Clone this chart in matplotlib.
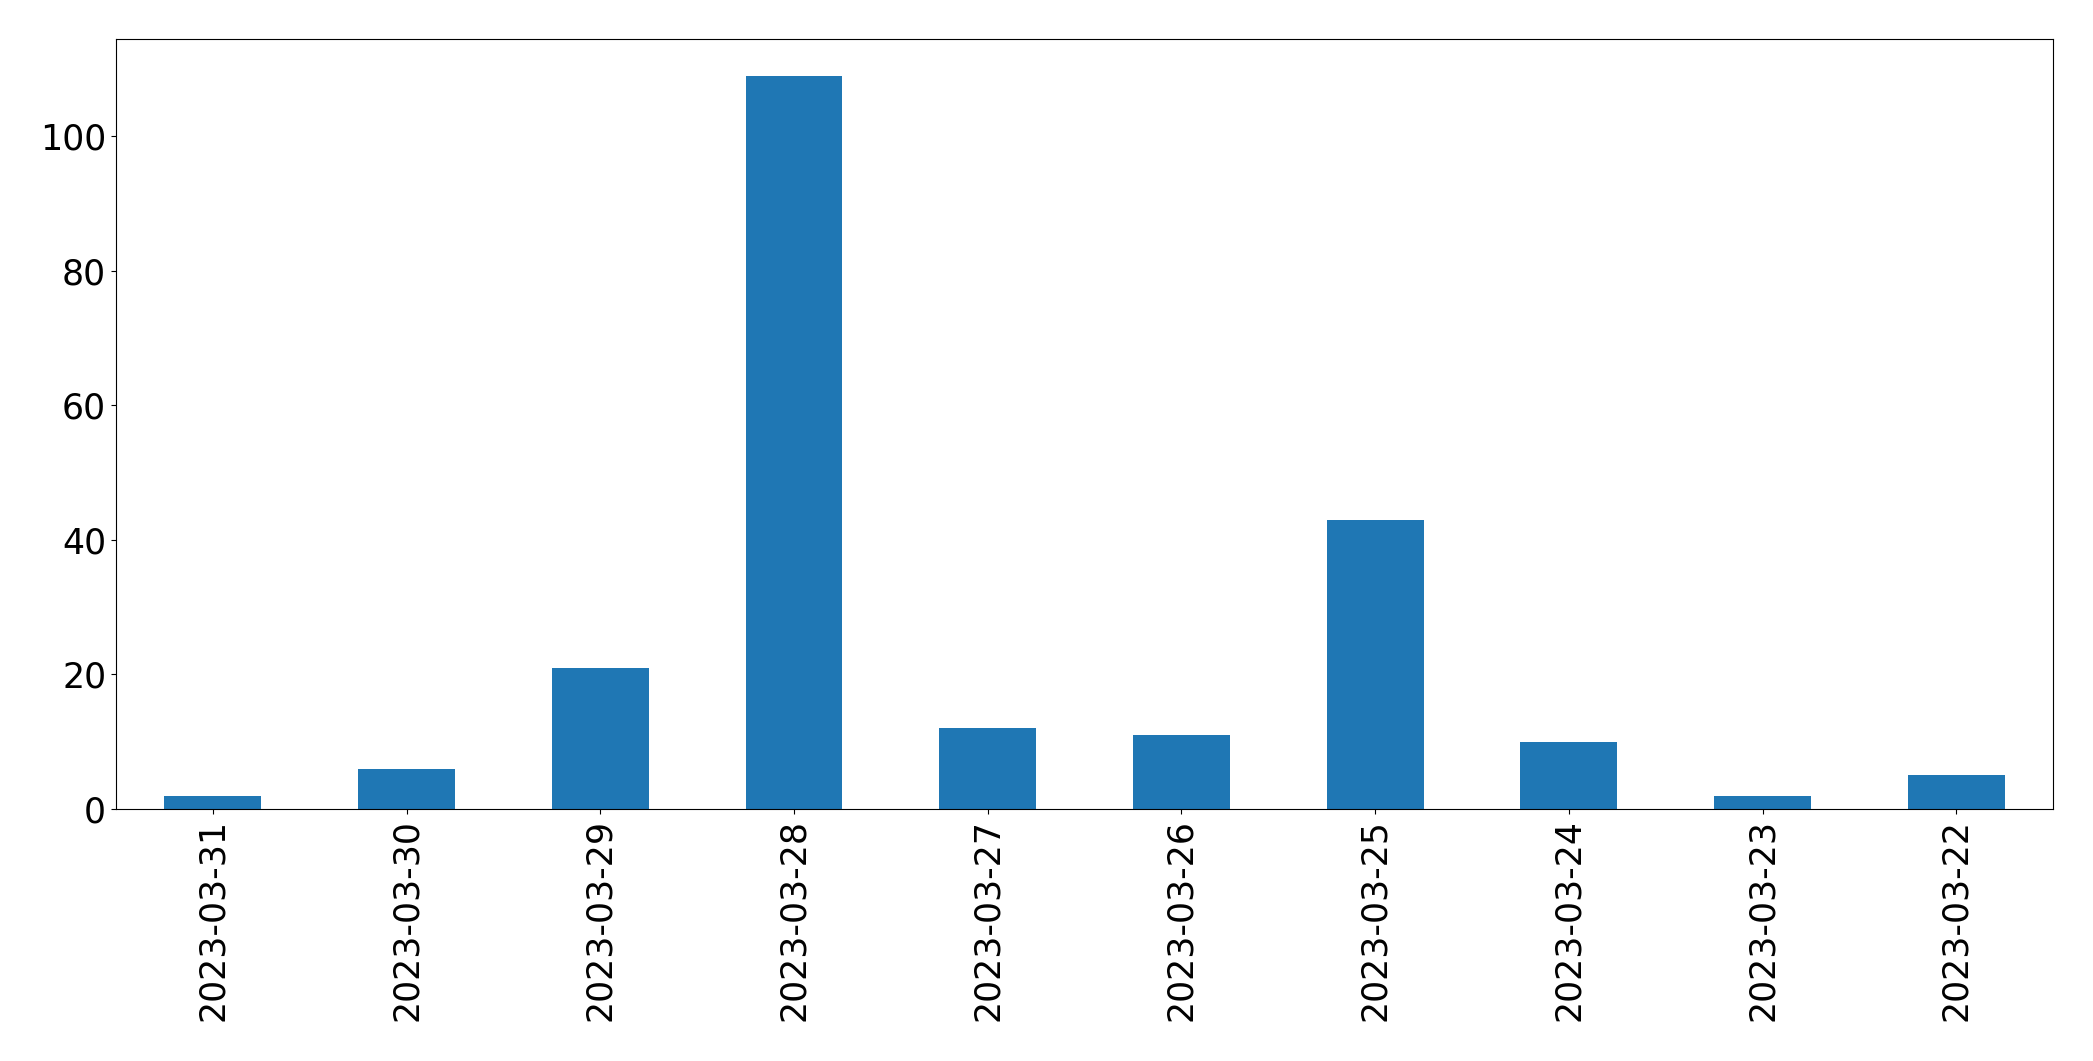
import pandas as pd
import matplotlib
matplotlib.use("Agg")
import matplotlib.pyplot as plt

dates = ["2023-03-31", "2023-03-30", "2023-03-29", "2023-03-28", "2023-03-27",
         "2023-03-26", "2023-03-25", "2023-03-24", "2023-03-23", "2023-03-22"]
counts = [2, 6, 21, 109, 12, 11, 43, 10, 2, 5]

data = pd.Series(counts, index=dates)

fig, ax = plt.subplots(figsize=(20.93, 10.61), dpi=100)
data.plot(kind="bar", ax=ax, color="#1f77b4")
ax.tick_params(axis="both", labelsize=25)
fig.subplots_adjust(left=0.0554, right=0.981, top=0.963, bottom=0.2375)
fig.savefig("out.png", dpi=100)
